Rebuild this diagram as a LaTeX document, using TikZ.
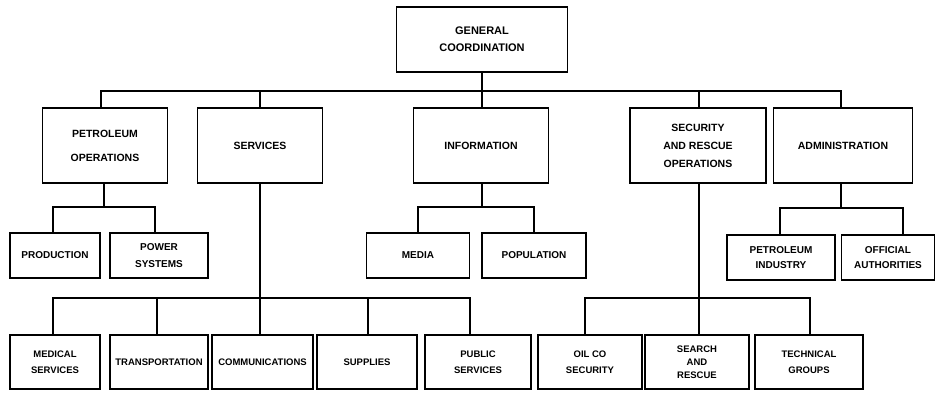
\documentclass[tikz,border=0pt]{standalone}
\usepackage{fontspec}
\setmainfont{Liberation Sans}
\begin{document}
\begin{tikzpicture}[x=1pt,y=-1pt,
  box/.style={draw, rectangle, inner sep=0pt, align=center, line width=1.6pt,
    font=\bfseries\fontsize{9.5}{12}\selectfont},
  bigtext/.style={font=\bfseries\fontsize{10.5}{12}\selectfont},
  midtext/.style={font=\bfseries\fontsize{10}{12}\selectfont},
  wire/.style={line width=1.6pt}]
\useasboundingbox[fill=white] (0,0) rectangle (940,393);
% top
\node[box, bigtext, font=\bfseries\fontsize{11}{12}\selectfont, minimum width=171, minimum height=65] (gc) at (482,39.5) {GENERAL\\[5pt]COORDINATION};
% level 2
\node[box, bigtext, minimum width=125, minimum height=75] (petop) at (105,145.5) {PETROLEUM\\[12pt]OPERATIONS};
\node[box, bigtext, minimum width=125, minimum height=75] (serv) at (260,145.5) {SERVICES};
\node[box, bigtext, minimum width=135, minimum height=75] (info) at (481,145.5) {INFORMATION};
\node[box, bigtext, minimum width=136, minimum height=75] (sec) at (698,145.5) {SECURITY\\[6pt]AND RESCUE\\[6pt]OPERATIONS};
\node[box, bigtext, minimum width=139, minimum height=75] (admin) at (843,145.5) {ADMINISTRATION};
% level 3
\node[box, midtext, minimum width=90, minimum height=45] (prod) at (55,255.5) {PRODUCTION};
\node[box, midtext, minimum width=98, minimum height=45] (power) at (159,255.5) {POWER\\[5pt]SYSTEMS};
\node[box, midtext, minimum width=103, minimum height=45] (media) at (418,255.5) {MEDIA};
\node[box, midtext, minimum width=104, minimum height=45] (pop) at (534,255.5) {POPULATION};
\node[box, midtext, minimum width=108, minimum height=45] (petind) at (781,257.5) {PETROLEUM\\[3pt]INDUSTRY};
\node[box, midtext, minimum width=93, minimum height=45] (offauth) at (888,257.5) {OFFICIAL\\[3pt]AUTHORITIES};
% level 4
\node[box, minimum width=90, minimum height=54] (med) at (55,362) {MEDICAL\\[4pt]SERVICES};
\node[box, minimum width=98, minimum height=54] (trans) at (159,362) {TRANSPORTATION};
\node[box, minimum width=101, minimum height=54] (comm) at (262.5,362) {COMMUNICATIONS};
\node[box, minimum width=100, minimum height=54] (supp) at (367,362) {SUPPLIES};
\node[box, minimum width=106, minimum height=54] (pub) at (478,362) {PUBLIC\\[4pt]SERVICES};
\node[box, minimum width=104, minimum height=54] (oil) at (590,362) {OIL CO\\[4pt]SECURITY};
\node[box, minimum width=104, minimum height=54] (sar) at (697,362) {SEARCH\\[1pt]AND\\[1pt]RESCUE};
\node[box, minimum width=108, minimum height=54] (tech) at (809,362) {TECHNICAL\\[4pt]GROUPS};
% bus coordinates
\coordinate (topbus) at (482,91);
\coordinate (petbus) at (104,207);
\coordinate (infobus) at (482,207);
\coordinate (adminbus) at (841,208);
\coordinate (servbus) at (260,298);
\coordinate (secbus) at (699,298);
% connectors: level 1 -> 2
\draw[wire] (gc.south) -- (topbus);
\draw[wire] (topbus) -| ([xshift=-4pt]petop.north);
\draw[wire] (topbus) -| (serv.north);
\draw[wire] (topbus) -- (topbus |- info.north);
\draw[wire] (topbus) -| ([xshift=1pt]sec.north);
\draw[wire] (topbus) -| ([xshift=-2pt]admin.north);
% petroleum operations
\draw[wire] ([xshift=-1pt]petop.south) -- (petbus);
\draw[wire] (petbus) -| ([xshift=-2pt]prod.north);
\draw[wire] (petbus) -| ([xshift=-4pt]power.north);
% information
\draw[wire] ([xshift=1pt]info.south) -- (infobus);
\draw[wire] (infobus) -| (media.north);
\draw[wire] (infobus) -| (pop.north);
% administration
\draw[wire] ([xshift=-2pt]admin.south) -- (adminbus);
\draw[wire] (adminbus) -| ([xshift=-1pt]petind.north);
\draw[wire] (adminbus) -| ([xshift=15pt]offauth.north);
% services
\draw[wire] (serv.south) -- (servbus);
\draw[wire] (servbus) -| ([xshift=-2pt]med.north);
\draw[wire] (servbus) -| ([xshift=-2pt]trans.north);
\draw[wire] (servbus) -- (servbus |- comm.north);
\draw[wire] (servbus) -| ([xshift=1pt]supp.north);
\draw[wire] (servbus) -| ([xshift=-8pt]pub.north);
% security
\draw[wire] ([xshift=1pt]sec.south) -- (secbus);
\draw[wire] (secbus) -| ([xshift=-5pt]oil.north);
\draw[wire] (secbus) -- (secbus |- sar.north);
\draw[wire] (secbus) -| ([xshift=1pt]tech.north);
\end{tikzpicture}
\end{document}
